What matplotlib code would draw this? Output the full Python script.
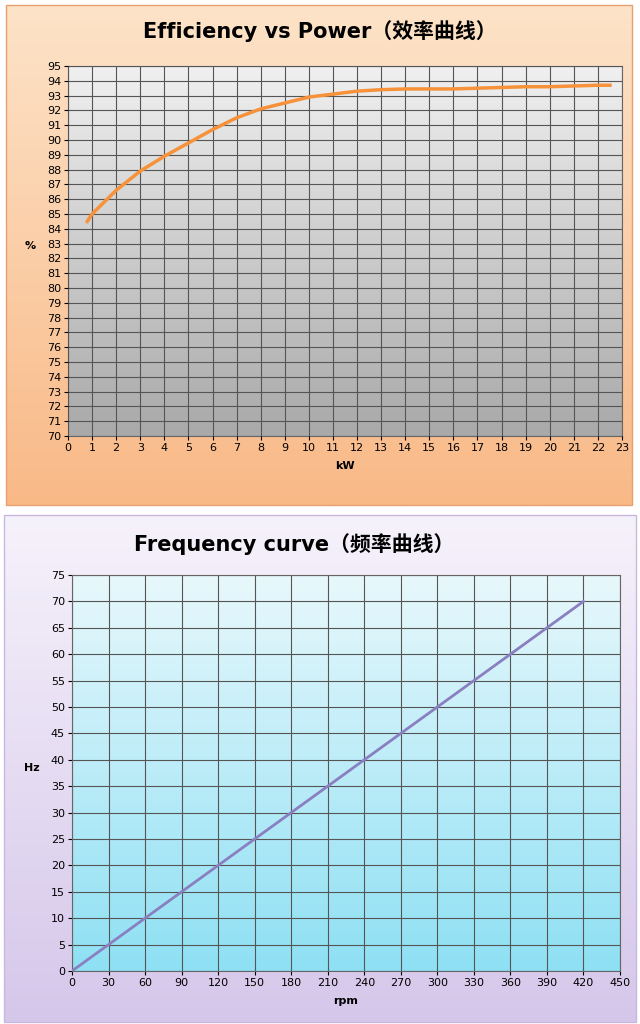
import numpy as np
import matplotlib
matplotlib.use("Agg")
import matplotlib.pyplot as plt
from matplotlib.colors import LinearSegmentedColormap
from matplotlib.patches import FancyBboxPatch

plt.rcParams['font.family'] = ['DejaVu Sans', 'Noto Sans CJK SC']

power_kw = [0.8, 1, 2, 3, 4, 5, 6, 7, 8, 9, 10, 11, 12, 13, 14, 15, 16, 17, 18, 19, 20, 21, 22, 22.5]
efficiency = [84.5, 85.0, 86.6, 87.9, 88.9, 89.8, 90.7, 91.5, 92.1, 92.5, 92.9, 93.1, 93.3, 93.4,
              93.45, 93.45, 93.45, 93.5, 93.55, 93.6, 93.6, 93.65, 93.7, 93.7]
rpm = [0, 60, 120, 180, 240, 300, 360, 420]
hz = [0, 10, 20, 30, 40, 50, 60, 70]

fig = plt.figure(figsize=(6.4, 10.24), dpi=100)
W, H = 640, 1024

def grad(ax_or_fig, c_top, c_bot, extent, transform, z):
    cm = LinearSegmentedColormap.from_list('g', [c_bot, c_top])
    g = np.linspace(0, 1, 256).reshape(-1, 1)
    ax_or_fig.imshow(g, cmap=cm, aspect='auto', extent=extent, origin='lower',
                     transform=transform, zorder=z)

bg = fig.add_axes([0, 0, 1, 1]); bg.set_xlim(0, W); bg.set_ylim(H, 0); bg.axis('off')
# panel backgrounds
grad(bg, '#fde3c8', '#f9b987', (6, 632, 505, 5), bg.transData, 0)
bg.add_patch(plt.Rectangle((6, 5), 626, 500, fill=False, ec='#e6a070', lw=1, zorder=1))
grad(bg, '#f6f2fb', '#d5c7ea', (4, 636, 1022, 515), bg.transData, 0)
bg.add_patch(plt.Rectangle((4, 515), 632, 507, fill=False, ec='#c8b8e0', lw=1, zorder=1))
bg.set_xlim(0, W); bg.set_ylim(H, 0)

def axrect(x0, y0, x1, y1):
    return [x0 / W, 1 - y1 / H, (x1 - x0) / W, (y1 - y0) / H]

# Top chart
ax1 = fig.add_axes(axrect(68, 66, 622, 436))
ax1.set_xlim(0, 23); ax1.set_ylim(70, 95)
grad(ax1, '#f0f0f0', '#a9a9a9', (0, 1, 0, 1), ax1.transAxes, 0)
ax1.set_xticks(range(0, 24)); ax1.set_yticks(range(70, 96))
ax1.grid(True, color='#555555', lw=0.8)
ax1.set_axisbelow(False)
ax1.plot(power_kw, efficiency, color='#f7923a', lw=2.5, zorder=5)
ax1.tick_params(labelsize=8, length=3, pad=2)
ax1.set_xlabel('kW', fontsize=8, fontweight='bold', labelpad=6)
ax1.set_ylabel('%', fontsize=8, fontweight='bold', rotation=0, labelpad=12)
for s in ax1.spines.values(): s.set_color('#666666')
fig.text(0.5, 1 - 31 / H, 'Efficiency vs Power（效率曲线）', ha='center', va='center',
         fontsize=15, fontweight='bold', family=['DejaVu Sans', 'Noto Sans CJK SC'])

# Bottom chart
ax2 = fig.add_axes(axrect(72, 575, 620, 971))
ax2.set_xlim(0, 450); ax2.set_ylim(0, 75)
grad(ax2, '#e8f8fc', '#8ee0f4', (0, 1, 0, 1), ax2.transAxes, 0)
ax2.set_xticks(range(0, 451, 30)); ax2.set_yticks(range(0, 76, 5))
ax2.grid(True, color='#555555', lw=0.8)
ax2.plot(rpm, hz, color='#8a7fc0', lw=2, zorder=5)
ax2.tick_params(labelsize=8, length=3, pad=2)
ax2.set_xlabel('rpm', fontsize=8, fontweight='bold', labelpad=6)
ax2.set_ylabel('Hz', fontsize=8, fontweight='bold', rotation=0, labelpad=14)
for s in ax2.spines.values(): s.set_color('#666666')
fig.text(0.46, 1 - 544 / H, 'Frequency curve（频率曲线）', ha='center', va='center',
         fontsize=15, fontweight='bold', family=['DejaVu Sans', 'Noto Sans CJK SC'])

fig.savefig('out.png', dpi=100)
